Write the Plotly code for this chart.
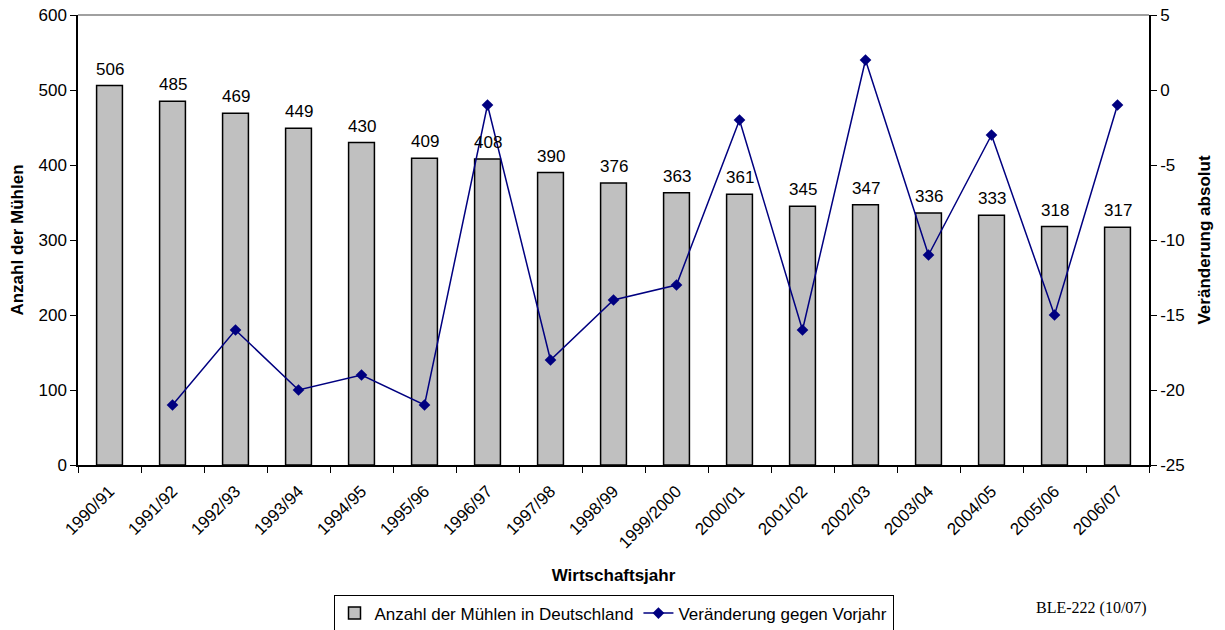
import plotly.graph_objects as go

jahre = ["1990/91", "1991/92", "1992/93", "1993/94", "1994/95", "1995/96", "1996/97",
         "1997/98", "1998/99", "1999/2000", "2000/01", "2001/02", "2002/03", "2003/04",
         "2004/05", "2005/06", "2006/07"]
anzahl = [506, 485, 469, 449, 430, 409, 408, 390, 376, 363, 361, 345, 347, 336, 333, 318, 317]
veraenderung = [None, -21, -16, -20, -19, -21, -1, -18, -14, -13, -2, -16, 2, -11, -3, -15, -1]
y2_ticks = [-25, -20, -15, -10, -5, 0, 5]

FONT = "Liberation Sans, Arial, sans-serif"
FS = 17

fig = go.Figure()
fig.add_trace(go.Bar(
    x=jahre, y=anzahl, name="Anzahl der Mühlen in Deutschland",
    marker=dict(color="#C0C0C0", line=dict(color="black", width=1.5)),
    width=0.41,
))
fig.add_trace(go.Scatter(
    x=jahre, y=veraenderung, name="Veränderung gegen Vorjahr", yaxis="y2",
    mode="lines+markers",
    line=dict(color="#000080", width=1.5),
    marker=dict(symbol="diamond", size=9, color="#000080"),
))

annotations = []
for j, v in zip(jahre, anzahl):
    annotations.append(dict(x=j, y=v, text=str(v), showarrow=False, xref="x", yref="y",
                            yanchor="bottom", yshift=5, font=dict(size=FS, color="black", family=FONT)))
annotations.append(dict(text="BLE-222 (10/07)", x=0.946, y=-0.318, xref="paper", yref="paper",
                        showarrow=False, xanchor="center", yanchor="middle",
                        font=dict(family="Liberation Serif, Times New Roman, serif", size=16, color="black")))

fig.update_layout(
    width=1217, height=622,
    margin=dict(l=70, r=76, t=7, b=165, autoexpand=False),
    paper_bgcolor="white", plot_bgcolor="white",
    font=dict(family=FONT, size=FS, color="black"),
    showlegend=True,
    legend=dict(orientation="h", x=0.5, xanchor="center", y=-0.33, yanchor="middle",
                bordercolor="black", borderwidth=1, font=dict(size=FS),
                itemwidth=30, tracegroupgap=0),
    xaxis=dict(
        type="category", range=[-0.5, len(jahre) - 0.5], tickangle=-45, tickson="boundaries",
        ticks="outside", ticklen=6, tickcolor="black",
        showline=True, linecolor="black", linewidth=1.5,
        showgrid=False, tickfont=dict(size=FS), automargin=False, ticklabelstandoff=8,
        title=dict(text="<b>Wirtschaftsjahr</b>", font=dict(size=FS), standoff=18),
    ),
    yaxis=dict(
        range=[0, 600], dtick=100, ticks="outside", ticklen=6, tickcolor="black",
        showline=True, linecolor="black", linewidth=1.5, showgrid=False, zeroline=False,
        tickfont=dict(size=FS), automargin=False, ticklabeloverflow="allow",
        title=dict(text="<b>Anzahl der Mühlen</b>", font=dict(size=FS), standoff=14),
    ),
    yaxis2=dict(
        range=[-25, 5], tickmode="array", tickvals=y2_ticks, ticktext=[str(t) for t in y2_ticks],
        overlaying="y", side="right",
        ticks="outside", ticklen=6, tickcolor="black",
        showline=True, linecolor="black", linewidth=1.5, showgrid=False, zeroline=False,
        tickfont=dict(size=FS), automargin=False, ticklabeloverflow="allow",
        title=dict(text="<b>Veränderung absolut</b>", font=dict(size=FS), standoff=14),
    ),
    annotations=annotations,
    shapes=[dict(type="line", xref="paper", yref="paper", x0=0, x1=1, y0=1, y1=1,
                 line=dict(color="#808080", width=1.5), layer="below")],
)

fig.write_html("out.html")
